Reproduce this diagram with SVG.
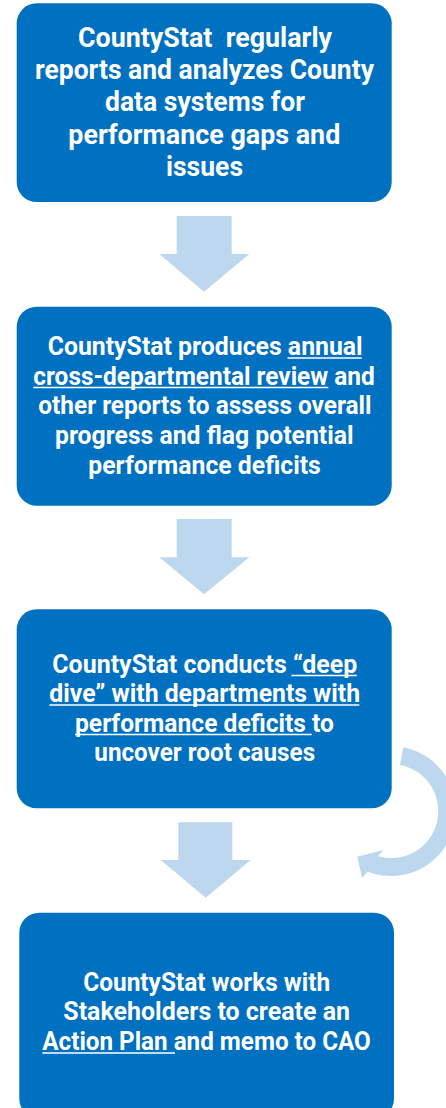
<svg xmlns="http://www.w3.org/2000/svg" width="446" height="1108" viewBox="0 0 446 1108">
<style>
.box{fill:#0070C0}
.arr{fill:#BDD7EE}
.t{font-family:"Roboto","Liberation Sans","DejaVu Sans",sans-serif;font-weight:bold;fill:#FFFFFF}
.t1{font-size:28px}
.t2{font-size:26px}
.ul{stroke:#FFFFFF;stroke-width:1.6;fill:none}
</style>
<rect width="446" height="1108" fill="#FFFFFF"/>
<g id="connectors">
  <polygon class="arr" points="176.7,216 231.7,216 231.7,254 249.3,254 204,291.7 159.3,254 176.7,254"/>
  <polygon class="arr" points="176.7,519 231.7,519 231.7,557.3 249.3,557.3 204,594.3 159.3,557.3 176.7,557.3"/>
  <polygon class="arr" points="178.3,822.3 232.3,822.3 232.3,860 250.7,860 205.7,897.7 160.7,860 178.3,860"/>
  <path class="arr" d="M403.4,747.2 A65,65 0 1 1 367.7,871.7 L362,878 L357.3,856.7 L383.3,850 L378.1,856.2 A47,47 0 1 0 400,764.9 Z"/>
</g>
<g id="node1">
  <rect class="box" x="16.7" y="3.3" width="375" height="198.7" rx="20"/>
  <text class="t t1" xml:space="preserve" x="78" y="47" textLength="254" lengthAdjust="spacingAndGlyphs">CountyStat  regularly</text>
  <text class="t t1" x="35" y="79.2" textLength="339" lengthAdjust="spacingAndGlyphs">reports and analyzes County</text>
  <text class="t t1" x="105" y="111.4" textLength="200" lengthAdjust="spacingAndGlyphs">data systems for</text>
  <text class="t t1" x="68.3" y="143.6" textLength="272" lengthAdjust="spacingAndGlyphs">performance gaps and</text>
  <text class="t t1" x="166" y="175.8" textLength="77" lengthAdjust="spacingAndGlyphs">issues</text>
</g>
<g id="node2">
  <rect class="box" x="16.7" y="306.7" width="375" height="199" rx="20"/>
  <text class="t t2" x="47.7" y="355" textLength="315" lengthAdjust="spacingAndGlyphs">CountyStat produces annual</text>
  <text class="t t2" x="33.3" y="384.7" textLength="341.5" lengthAdjust="spacingAndGlyphs">cross-departmental review and</text>
  <text class="t t2" x="38.3" y="414.4" textLength="333.2" lengthAdjust="spacingAndGlyphs">other reports to assess overall</text>
  <text class="t t2" x="55" y="444.1" textLength="298.5" lengthAdjust="spacingAndGlyphs">progress and flag potential</text>
  <text class="t t2" x="88.3" y="473.8" textLength="232.5" lengthAdjust="spacingAndGlyphs">performance deficits</text>
  <line class="ul" x1="287.5" y1="358" x2="361.7" y2="358"/>
  <line class="ul" x1="33.3" y1="387.5" x2="328.3" y2="387.5"/>
</g>
<g id="node3">
  <rect class="box" x="16.7" y="609.3" width="375" height="199" rx="20"/>
  <text class="t t2" x="52.3" y="672.5" textLength="305" lengthAdjust="spacingAndGlyphs">CountyStat conducts “deep</text>
  <text class="t t2" x="49.3" y="702" textLength="310.8" lengthAdjust="spacingAndGlyphs">dive” with departments with</text>
  <text class="t t2" x="75" y="731.5" textLength="259" lengthAdjust="spacingAndGlyphs">performance deficits to</text>
  <text class="t t2" x="94.3" y="761" textLength="220.8" lengthAdjust="spacingAndGlyphs">uncover root causes</text>
  <line class="ul" x1="291.5" y1="675.5" x2="356.7" y2="675.5"/>
  <line class="ul" x1="49.3" y1="705" x2="359.3" y2="705"/>
  <line class="ul" x1="75" y1="734.5" x2="311.7" y2="734.5"/>
</g>
<g id="node4">
  <rect class="box" x="19.3" y="912.7" width="374.7" height="206" rx="20"/>
  <text class="t t2" x="83.3" y="990.7" textLength="246.8" lengthAdjust="spacingAndGlyphs">CountyStat works with</text>
  <text class="t t2" x="63.3" y="1020" textLength="286.8" lengthAdjust="spacingAndGlyphs">Stakeholders to create an</text>
  <text class="t t2" x="42.3" y="1050" textLength="328.5" lengthAdjust="spacingAndGlyphs">Action Plan and memo to CAO</text>
  <line class="ul" x1="42.3" y1="1053" x2="175" y2="1053"/>
</g>
</svg>
